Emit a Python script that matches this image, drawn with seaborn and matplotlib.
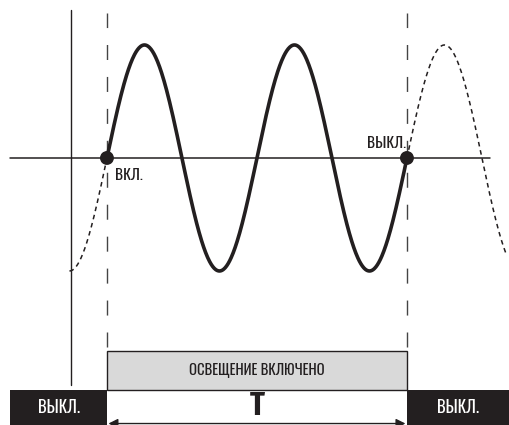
import numpy as np
import pandas as pd
import matplotlib
matplotlib.use("Agg")
import matplotlib.pyplot as plt
import seaborn as sns
from matplotlib.patches import Rectangle

# ===== Data (time in periods, level in amplitudes) =====
t_on = 0.0          # switch-on zero crossing
t_off = 2.0         # switch-off zero crossing
t_start = -0.25     # start of dashed lead-in
t_end = 2.667       # end of dashed tail
amplitude = 1.0
on_label = "ВКЛ."
off_label = "ВЫКЛ."
band_label = "ОСВЕЩЕНИЕ ВКЛЮЧЕНО"
period_label = "T"

sns.set_theme(style="white")
plt.rcParams['font.family'] = ['Oswald', 'Fira Sans Extra Condensed', 'DejaVu Sans']

INK = "#231f20"

def wave(t0, t1, n=300):
    t = np.linspace(t0, t1, n)
    return pd.DataFrame({"t": t, "v": amplitude * np.sin(2 * np.pi * t)})

fig = plt.figure(figsize=(5.1, 4.25), dpi=100)
ax = fig.add_axes([0, 0, 1, 1])
ax.set_xlim(-0.713, 2.687)
ax.set_ylim(-2.363, 1.398)
ax.axis("off")

# axes of the diagram
ax.plot([-0.647, 2.553], [0, 0], color=INK, lw=1.1)
ax.plot([-0.24, -0.24], [-2.01, 1.31], color=INK, lw=1.0)

# switching markers (dashed verticals)
for t in [t_on, t_off]:
    ax.plot([t, t], [-1.673, 1.283], color="#444444", lw=1.0,
            dashes=(10.8, 12.2))

# sine: lead-in, lit part, tail
lead = wave(t_start, t_on)
lit = wave(t_on, t_off, 600)
tail = wave(t_off, t_end)
sns.lineplot(data=lead, x="t", y="v", ax=ax, color=INK, lw=1.1, sort=False)
ax.lines[-1].set_dashes((3, 2.5))
sns.lineplot(data=tail, x="t", y="v", ax=ax, color=INK, lw=1.1, sort=False)
ax.lines[-1].set_dashes((3, 2.5))
sns.lineplot(data=lit, x="t", y="v", ax=ax, color=INK, lw=2.6, sort=False)

dots = pd.DataFrame({"t": [t_on, t_off], "v": [0, 0]})
sns.scatterplot(data=dots, x="t", y="v", ax=ax, color=INK, s=100,
                edgecolor="none", zorder=5)

ax.text(t_on + 0.055, -0.09, on_label, fontsize=11, ha="left", va="top",
        color=INK, fontweight="light")
ax.text(t_off - 0.005, 0.06, off_label, fontsize=11, ha="right", va="bottom",
        color=INK, fontweight="light")

# bottom band
ax.add_patch(Rectangle((t_on, -2.053), t_off - t_on, 0.345, facecolor="#d9d9d9",
                       edgecolor=INK, lw=1.0))
ax.text((t_on + t_off) / 2, -1.88, band_label, fontsize=10.5, ha="center",
        va="center", color=INK, fontweight="light")
ax.add_patch(Rectangle((-0.647, -2.4), 0.647, 0.347, facecolor=INK,
                       edgecolor="none"))
ax.add_patch(Rectangle((t_off, -2.4), 0.75, 0.347, facecolor=INK,
                       edgecolor="none"))
ax.text(-0.32, -2.205, off_label, fontsize=12, ha="center", va="center",
        color="white", fontweight="light")
ax.text(2.34, -2.205, off_label, fontsize=12, ha="center", va="center",
        color="white", fontweight="light")
ax.text((t_on + t_off) / 2, -2.2, period_label, fontsize=24, fontweight="bold",
        family=['Fira Sans Extra Condensed', 'DejaVu Sans'],
        ha="center", va="center", color=INK)
ax.annotate("", xy=(t_on + 0.01, -2.35), xytext=(t_off - 0.01, -2.35),
            arrowprops=dict(arrowstyle="<|-|>", color=INK, lw=1.0,
                            shrinkA=0, shrinkB=0, mutation_scale=14))

fig.savefig("out.png", dpi=100)
